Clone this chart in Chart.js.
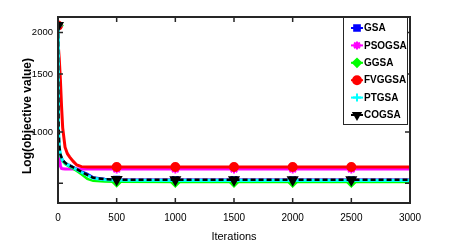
<!DOCTYPE html>
<html>
<head>
<meta charset="utf-8">
<script src="https://cdn.jsdelivr.net/npm/chart.js@4.4.1/dist/chart.umd.min.js"></script>
<style>
  html, body { margin: 0; padding: 0; background: #fff; }
  #wrap { width: 452px; height: 245px; }
</style>
</head>
<body>
<div id="wrap"><canvas id="chart"></canvas></div>
<script>
var iterations = [0, 2, 5, 10, 20, 30, 40, 60, 80, 100, 130, 160, 200, 250, 300, 400, 500, 1000, 1500, 2000, 2500, 3000];
var gsa    = [2100, 1500, 1050, 920, 860, 840, 825, 810, 800, 795, 785, 775, 762, 748, 730, 722, 720, 719, 719, 718, 718, 718];
var psogsa = [2100, 1400, 1000, 860, 790, 776, 774, 773, 773, 773, 773, 773, 773, 773, 773, 773, 773, 773, 773, 773, 773, 773];
var ggsa   = [2100, 1450, 1000, 900, 850, 830, 815, 800, 792, 785, 775, 762, 745, 722, 712, 708, 707, 706, 706, 706, 706, 706];
var fvggsa = [2100, 2000, 1800, 1680, 1450, 1200, 1030, 900, 860, 840, 815, 795, 786, 784, 784, 784, 784, 784, 784, 784, 784, 784];
var ptgsa  = [2100, 1480, 1040, 910, 855, 835, 820, 805, 797, 790, 780, 770, 756, 740, 725, 717, 715, 714, 714, 714, 714, 714];
var cogsa  = [2100, 1490, 1045, 915, 858, 838, 822, 808, 798, 792, 782, 772, 758, 742, 727, 720, 718, 717, 717, 717, 717, 717];
var seriesNames = ["GSA", "PSOGSA", "GGSA", "FVGGSA", "PTGSA", "COGSA"];
var xTicks = [0, 500, 1000, 1500, 2000, 2500, 3000];
var yTicks = [700, 1000, 1500, 2000];
var yLabels = ["", "1000", "1500", "2000"];

var font = "'Liberation Sans', Arial, sans-serif";

function pts(vals) {
  return iterations.map(function (it, i) { return { x: it, y: vals[i] }; });
}
function markerRadius(r) {
  return function (ctx) {
    var it = iterations[ctx.dataIndex];
    return (it % 500 === 0 && it < 3000) ? r : 0;
  };
}

var styles = [
  { color: "#0000ff", width: 2,   point: "rect",     r: 3.5, dash: [] },
  { color: "#ff00ff", width: 3,   point: "star",     r: 4.5, dash: [] },
  { color: "#00ff00", width: 2.5, point: "rectRot",  r: 4.5, dash: [] },
  { color: "#ff0000", width: 3,   point: "circle",   r: 4,   dash: [] },
  { color: "#00ffff", width: 3,   point: "cross",    r: 4.5, dash: [] },
  { color: "#000000", width: 2.5, point: "triangle", r: 5,   dash: [5, 3] }
];
var values = [gsa, psogsa, ggsa, fvggsa, ptgsa, cogsa];

var datasets = values.map(function (v, i) {
  var s = styles[i];
  return {
    label: seriesNames[i],
    data: pts(v),
    borderColor: s.color,
    backgroundColor: s.color,
    borderWidth: s.width,
    borderDash: s.dash,
    pointStyle: s.point,
    pointRotation: s.point === "triangle" ? 180 : 0,
    pointRadius: markerRadius(s.r),
    pointBorderWidth: 2,
    pointBorderColor: s.color,
    pointBackgroundColor: s.color,
    pointHoverRadius: 0,
    tension: 0,
    order: 6 - i
  };
});

var boxPlugin = {
  id: "box",
  afterDraw: function (chart) {
    var c = chart.ctx, a = chart.chartArea;
    var xs = chart.scales.x, ys = chart.scales.y;
    c.save();
    c.strokeStyle = "#262626";
    c.lineWidth = 1.5;
    c.beginPath();
    xTicks.forEach(function (t) {
      var px = xs.getPixelForValue(t);
      c.moveTo(px, a.bottom); c.lineTo(px, a.bottom - 5);
      c.moveTo(px, a.top); c.lineTo(px, a.top + 5);
    });
    yTicks.forEach(function (t) {
      var py = ys.getPixelForValue(t);
      c.moveTo(a.left, py); c.lineTo(a.left + 5, py);
      c.moveTo(a.right, py); c.lineTo(a.right - 5, py);
    });
    c.stroke();
    c.lineWidth = 2;
    c.strokeRect(a.left, a.top, a.right - a.left, a.bottom - a.top);

    // y title
    c.save();
    c.translate(28, 116);
    c.rotate(-Math.PI / 2);
    c.fillStyle = "#000";
    c.font = "bold 12px " + font;
    c.textAlign = "center";
    c.textBaseline = "middle";
    c.fillText("Log(objective value)", 0, 0);
    c.restore();

    // legend
    var lx = 343, ly = a.top, lw = 64, lh = 107;
    c.fillStyle = "#fff";
    c.fillRect(lx, ly, lw, lh);
    c.lineWidth = 1;
    c.strokeStyle = "#262626";
    c.strokeRect(lx + 0.5, ly + 0.5, lw, lh);
    c.font = "bold 10px " + font;
    c.textBaseline = "middle";
    chart.data.datasets.forEach(function (ds, i) {
      var yy = ly + 11 + i * 17.4;
      c.strokeStyle = ds.borderColor;
      c.lineWidth = 2;
      c.setLineDash([]);
      c.beginPath();
      c.moveTo(lx + 8, yy); c.lineTo(lx + 20, yy);
      c.stroke();
      c.fillStyle = ds.borderColor;
      Chart.helpers.drawPoint(c, {
        pointStyle: ds.pointStyle,
        rotation: ds.pointRotation,
        radius: 4,
        borderWidth: 2
      }, lx + 14, yy);
      c.fillStyle = "#000";
      c.fillText(ds.label, lx + 21, yy + 0.5);
    });
    c.restore();
  }
};

new Chart(document.getElementById("chart"), {
  type: "line",
  data: { datasets: datasets },
  options: {
    responsive: true,
    maintainAspectRatio: false,
    animation: false,
    events: [],
    layout: { padding: { top: 17, right: 42, left: 0, bottom: 0 } },
    plugins: { legend: { display: false }, tooltip: { enabled: false } },
    scales: {
      x: {
        type: "linear",
        min: 0,
        max: 3000,
        afterBuildTicks: function (s) { s.ticks = xTicks.map(function (v) { return { value: v }; }); },
        afterFit: function (s) { s.height = 42; },
        grid: { display: false, drawTicks: false },
        border: { display: false },
        ticks: {
          padding: 9,
          color: "#000",
          font: { family: font, size: 10 },
          maxRotation: 0,
          callback: function (v) { return String(v); }
        },
        title: {
          display: true,
          text: "Iterations",
          color: "#000",
          font: { family: font, size: 11 },
          padding: { top: 0, bottom: 1 }
        }
      },
      y: {
        type: "logarithmic",
        min: 610,
        max: 2230,
        afterBuildTicks: function (s) { s.ticks = yTicks.map(function (v) { return { value: v }; }); },
        afterFit: function (s) { s.width = 58; },
        grid: { display: false, drawTicks: false },
        border: { display: false },
        ticks: {
          padding: 5,
          color: "#000",
          font: { family: font, size: 9.5 },
          autoSkip: false,
          callback: function (v) { return yLabels[yTicks.indexOf(v)]; }
        },
        title: { display: false }
      }
    }
  },
  plugins: [boxPlugin]
});
</script>
</body>
</html>
